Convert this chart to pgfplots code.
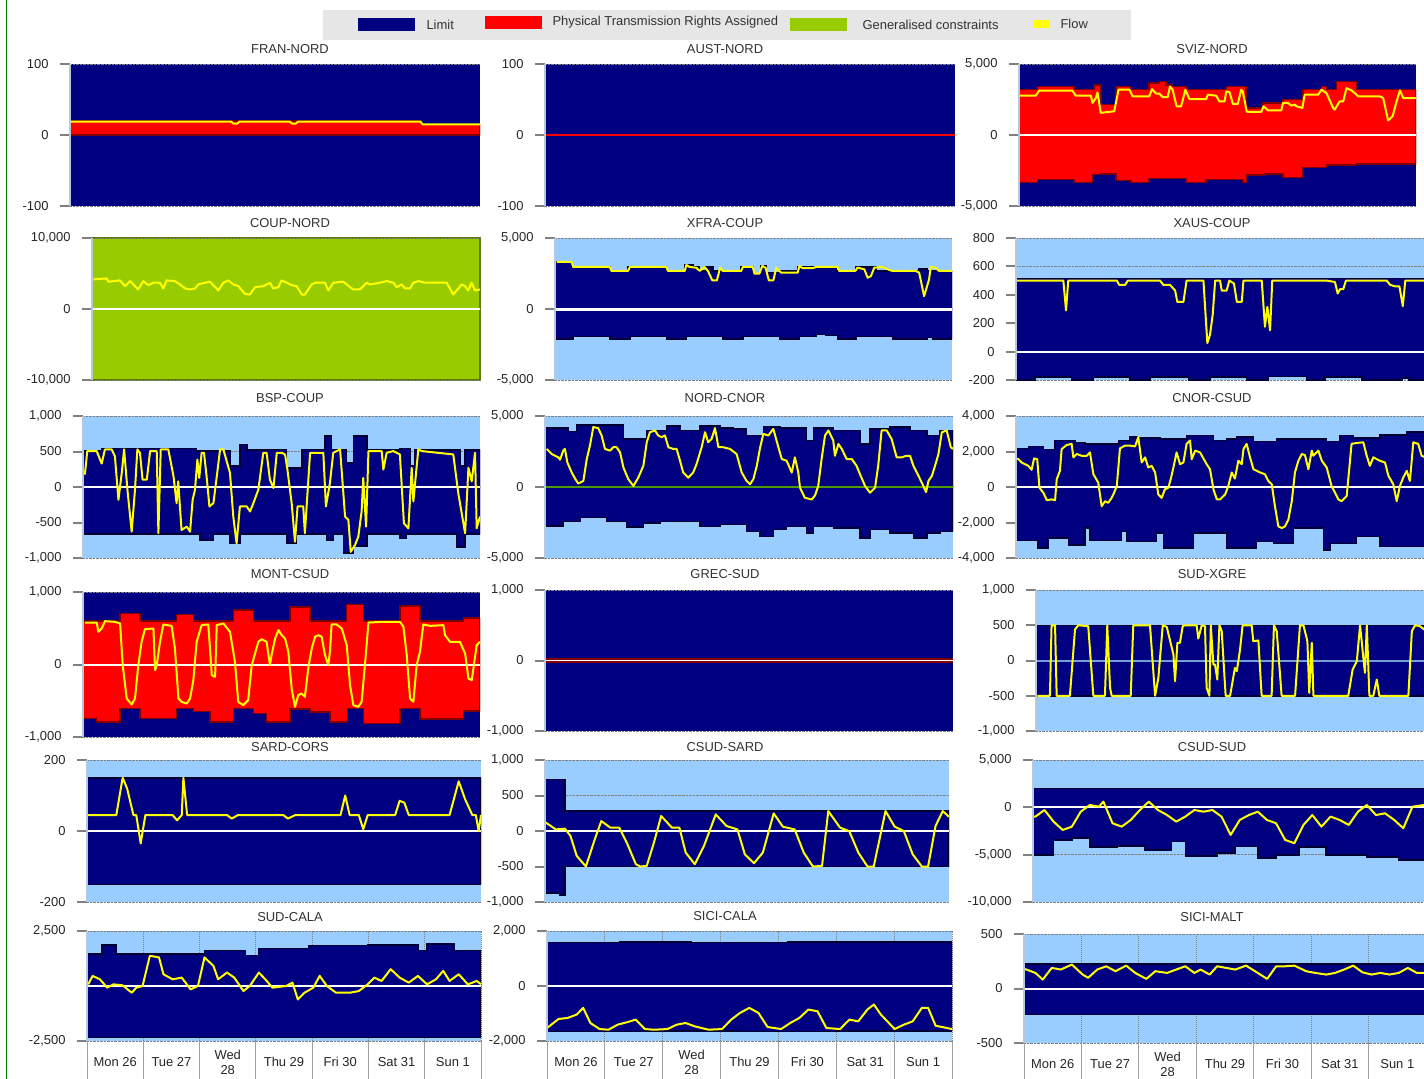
\documentclass[border=0pt]{standalone}
\usepackage{fontspec}
\setmainfont{Liberation Sans}
\usepackage{pgfplots}
\pgfplotsset{compat=1.18}

\definecolor{navyc}{HTML}{000080}
\definecolor{dnavy}{HTML}{000033}
\definecolor{lblue}{HTML}{99CCFF}
\definecolor{ptrc}{HTML}{FF0000}
\definecolor{dred}{HTML}{800000}
\definecolor{gcons}{HTML}{99CC00}
\definecolor{flowc}{HTML}{FFFF00}
\definecolor{txt}{HTML}{333333}
\definecolor{tickg}{HTML}{808080}
\definecolor{sepg}{HTML}{A0A0A0}
\definecolor{legbg}{HTML}{E6E6E6}
\definecolor{axl}{HTML}{B8C8D8}
\definecolor{zgreen}{HTML}{4C9A00}
\definecolor{zblue}{HTML}{70A0D8}

\newcommand\tf{\fontsize{13}{15}\selectfont}

\pgfplotsset{
  panel/.style={
    scale only axis, anchor=south west,
    xmin=0, xmax=168, xtick=\empty,
    axis line style={draw=none},
    scaled y ticks=false,
    ytick pos=left, tick align=outside, major tick length=10bp,
    ytick style={draw=tickg, line width=2bp},
    yticklabel style={font=\tf, text=black!85, xshift=-8bp},
    ymajorgrids, grid style={draw=tickg, densely dotted, line width=1bp},
    axis background/.style={fill=lblue},
    after end axis/.code={\draw[axl, line width=1.2bp] (rel axis cs:0,0) -- (rel axis cs:0,1);},
  },
  days/.style={
    xtick={12,36,60,84,108,132,156},
    xticklabels={Mon 26,Tue 27,{Wed\\28},Thu 29,Fri 30,Sat 31,Sun 1},
    xtick pos=bottom, xtick style={draw=none},
    xticklabel style={font=\tf, text=black!85, align=center, anchor=center, yshift=-11bp},
    minor xtick={0,24,...,168}, xminorgrids,
    minor grid style={draw=tickg, densely dotted, line width=1bp},
    after end axis/.code={
      \draw[axl, line width=1.2bp] (rel axis cs:0,0) -- (rel axis cs:0,1);
      \foreach \d in {0,...,7} \draw[sepg, line width=1bp] (rel axis cs:\d/7,0) -- ++(0,-40bp);
    },
  },
  lim/.style={const plot, fill=navyc, draw=dnavy, line width=1.5bp},
  ptr/.style={const plot, fill=ptrc, draw=dred, line width=1.5bp},
  flw/.style={sharp plot, draw=flowc, line width=2bp, line join=round},
  zer/.style={draw=white, line width=2bp},
}

\begin{document}
\begin{tikzpicture}
\useasboundingbox (0,0) rectangle (1424bp,-1079bp);
\fill[white] (0,0) rectangle (1424bp,-1079bp);
\draw[green!50!black, line width=1bp] (6.5bp,0) -- (6.5bp,-1079bp);

% legend
\fill[legbg] (323bp,-10bp) rectangle (1131bp,-40bp);
\fill[navyc] (358bp,-18bp) rectangle (415bp,-31bp);
\node[anchor=west, text=txt, font=\tf] at (423bp,-24.5bp) {Limit};
\fill[ptrc] (485bp,-16bp) rectangle (542bp,-29bp);
\node[anchor=west, text=txt, font=\tf] at (549bp,-22.5bp) {Physical Transmission Rights Assigned};
\fill[gcons] (790bp,-18bp) rectangle (847bp,-31bp);
\node[anchor=west, text=txt, font=\tf] at (859bp,-25bp) {Generalised constraints};
\fill[flowc] (1033bp,-20bp) rectangle (1050bp,-28bp);
\node[anchor=west, text=txt, font=\tf] at (1057bp,-24bp) {Flow};

% titles
\foreach \t/\x/\y in {FRAN-NORD/290/49, AUST-NORD/725/49, SVIZ-NORD/1212/49,
  COUP-NORD/290/223, XFRA-COUP/725/223, XAUS-COUP/1212/223,
  BSP-COUP/290/398, NORD-CNOR/725/398, CNOR-CSUD/1212/398,
  MONT-CSUD/290/574, GREC-SUD/725/574, SUD-XGRE/1212/574,
  SARD-CORS/290/747, CSUD-SARD/725/747, CSUD-SUD/1212/747,
  SUD-CALA/290/917, SICI-CALA/725/916, SICI-MALT/1212/917}
  \node[text=txt, font=\tf] at (\x bp,-\y bp) {\t};

% ---------- row 1 ----------
\begin{axis}[panel, at={(70bp,-206bp)}, width=410bp, height=142bp,
  ymin=-100, ymax=100, ytick={-100,0,100}, yticklabels={-100,0,100},
  axis background/.style={fill=navyc}]
\addplot[ptr] coordinates {(0,19.5)(144,15)(168,15)} \closedcycle;
\addplot[flw] coordinates {(0,19)(66,19)(67,16)(68.5,16)(69.5,19)(90,19)(91,16)(92.5,16)(93.5,19)(143.5,19)(144.5,15)(168,15)};
\end{axis}

\begin{axis}[panel, at={(545bp,-206bp)}, width=410bp, height=142bp,
  ymin=-100, ymax=100, ytick={-100,0,100}, yticklabels={-100,0,100},
  axis background/.style={fill=navyc}]
\addplot[draw=ptrc, line width=2bp] coordinates {(0,0)(168,0)};
\end{axis}

\begin{axis}[panel, at={(1019bp,-206bp)}, width=397bp, height=142bp,
  ymin=-5000, ymax=5000, ytick={-5000,0,5000}, yticklabels={{-5,000},0,{5,000}},
  axis background/.style={fill=navyc}]
\addplot[ptr] coordinates {(0,3190)(7.8,3420)(23.3,3190)(31.8,3530)(34.6,2140)(41.0,3420)(47.4,3190)(55.1,3650)(59.4,3770)(62.2,3530)(65.0,3420)(70.7,3190)(87.7,3420)(96.0,1910)(103.2,2260)(111.7,2490)(120.2,3190)(128.0,3420)(130.1,3190)(134.3,3770)(142.8,3190)(168,3190)} \closedcycle;
\addplot[ptr] coordinates {(0,-3330)(7.8,-3140)(23.3,-3330)(31.1,-2790)(34.6,-2740)(41.0,-3210)(47.4,-3330)(55.1,-3050)(70.7,-3330)(79.2,-3140)(94.7,-3330)(96.2,-2810)(104.0,-2740)(111.7,-2980)(120.2,-2280)(130.1,-2120)(142.8,-2050)(168,-2050)} \closedcycle;
\addplot[zer] coordinates {(0,0)(168,0)};
\addplot[flw] coordinates {(0,2770)(7.1,2770)(8.5,3120)(22.6,3120)(24.0,2770)(30.4,2770)(31.1,2260)(32.5,2600)(33.2,3000)(34.6,1560)(40.3,1670)(42.1,3190)(46.7,3190)(48.1,2720)(55.1,2720)(56.3,3230)(58.0,2910)(59.4,2910)(60.8,2670)(62.9,2670)(63.9,3420)(65.0,3190)(66.7,2020)(68.6,2020)(70.4,3190)(72.1,2530)(79.2,2530)(79.9,2840)(83.4,2770)(84.8,2370)(87.0,2370)(87.7,3070)(89.1,3020)(90.5,2190)(92.6,2190)(94.0,3190)(94.7,3070)(96.4,1630)(102.5,1630)(103.5,2020)(105.3,1740)(111.0,1740)(111.7,2260)(113.8,2260)(115.2,2070)(116.7,2140)(117.4,2020)(119.9,1910)(120.9,2840)(126.6,2840)(128.0,3190)(130.1,2950)(132.9,1910)(133.6,1790)(135.7,2370)(137.2,2370)(138.6,3300)(140.7,3140)(142.1,2950)(143.5,2720)(152.7,2720)(154.1,2600)(156.2,1020)(158.1,1330)(159.8,2370)(161.2,3140)(162.6,2600)(168,2600)};
\end{axis}

% ---------- row 2 ----------
\begin{axis}[panel, at={(92bp,-380bp)}, width=388bp, height=142bp,
  ymin=-10000, ymax=10000, ytick={-10000,0,10000}, yticklabels={{-10,000},0,{10,000}},
  axis background/.style={fill=gcons, draw=gcons!60!black, line width=2bp}]
\addplot[zer] coordinates {(0,0)(168,0)};
\addplot[flw] coordinates {(0.6,4170)(6.4,4310)(7.1,3840)(12.1,4030)(14.3,3220)(16.5,3930)(17.9,3460)(20.0,2750)(22.2,3930)(24.4,3360)(26.5,3700)(29.4,3700)(30.9,2890)(32.3,4030)(35.9,3930)(38.1,3460)(40.3,2890)(42.4,2750)(44.6,2890)(46.0,3460)(48.9,3700)(51.1,3840)(52.5,3360)(54.7,2610)(56.9,3700)(59.0,4030)(61.2,3460)(63.4,3220)(66.2,2130)(68.4,2040)(70.6,3080)(74.2,3220)(77.1,3700)(78.5,2890)(80.7,3080)(82.1,4030)(84.3,3700)(86.5,3360)(88.6,3220)(90.8,2040)(92.2,2040)(95.1,3460)(96.6,3700)(100.9,3700)(102.3,2610)(104.5,3700)(108.8,3840)(111.7,3080)(113.1,2750)(116.0,2750)(118.9,3700)(120.4,3460)(124.7,3700)(127.6,3930)(130.5,3700)(131.9,3080)(134.1,3460)(135.5,2890)(137.7,2890)(139.1,3700)(141.3,3930)(144.2,3700)(153.6,3700)(156.4,2040)(160.1,3460)(161.5,3220)(162.9,2610)(164.4,3700)(165.8,2610)(168,2750)};
\end{axis}

\begin{axis}[panel, at={(555bp,-380bp)}, width=397bp, height=142bp,
  ymin=-5000, ymax=5000, ytick={-5000,0,5000}, yticklabels={{-5,000},0,{5,000}}]
\addplot[lim] coordinates {(0,3320)(7.0,2960)(23.2,2680)(30.9,2960)(47.1,2680)(54.9,3100)(58.4,2960)(61.2,2680)(64.0,2960)(66.8,2680)(78.8,2960)(83.7,2490)(87.2,3030)(89.4,2560)(95.0,2680)(102.7,2960)(118.9,2680)(127.3,2960)(135.8,2680)(154.1,2800)(157.6,2680)(168,2680)} \closedcycle;
\addplot[lim] coordinates {(0,-2110)(7.7,-1940)(23.2,-2110)(31.7,-1940)(47.1,-2110)(55.6,-1940)(71.0,-2110)(79.5,-1940)(95.0,-2110)(103.4,-1940)(110.5,-1780)(114.7,-1870)(119.6,-2110)(127.3,-1940)(142.8,-2110)(157.6,-2010)(159.7,-2110)(168,-2110)} \closedcycle;
\addplot[draw=white, line width=3bp] coordinates {(0,0)(168,0)};
\addplot[flw] coordinates {(0.7,3320)(7.0,3320)(7.7,2960)(23.2,2960)(23.9,2680)(30.9,2680)(31.7,2960)(47.1,2960)(47.8,2680)(54.9,2680)(55.6,3100)(57.0,2960)(59.8,2910)(61.2,2680)(63.3,2960)(64.7,2680)(66.6,2010)(68.5,2010)(69.9,2910)(71.0,2680)(78.8,2680)(79.5,2960)(83.7,2960)(84.4,2490)(86.5,2490)(87.7,3030)(89.1,2910)(90.5,2010)(92.4,2010)(93.6,2910)(95.0,2680)(95.7,2560)(102.7,2560)(103.4,3030)(104.8,2870)(109.0,2870)(110.5,2960)(119.6,2960)(120.3,2680)(127.1,2680)(128.0,2910)(130.9,2800)(132.3,2200)(133.7,2320)(135.1,2910)(138.6,2960)(140.7,2800)(142.8,2680)(152.7,2680)(154.1,2560)(156.2,900)(158.3,2090)(159.0,2960)(161.1,2910)(162.5,2680)(168,2680)};
\end{axis}

\begin{axis}[panel, at={(1016bp,-380bp)}, width=410bp, height=142bp,
  ymin=-200, ymax=800, ytick={-200,0,200,400,600,800}, yticklabels={-200,0,200,400,600,800}]
\addplot[lim] coordinates {(0,515)(168,515)} \closedcycle;
\addplot[lim] coordinates {(0,-200)(7.8,-180)(22.8,-200)(31.7,-180)(46.7,-200)(54.9,-180)(70.6,-200)(79.5,-180)(94.5,-200)(103.4,-175)(119.1,-200)(126.6,-180)(141.7,-200)(158.1,-185)(160.8,-200)(168,-200)} \closedcycle;
\addplot[zer] coordinates {(0,0)(168,0)};
\addplot[flw] coordinates {(0,500)(19.4,500)(20.5,290)(21.4,500)(41.3,500)(42.3,470)(44.7,470)(45.8,500)(59.0,500)(60.4,470)(63.1,470)(65.2,430)(66.1,350)(68.6,350)(69.9,500)(76.8,500)(78.4,60)(79.5,120)(80.6,260)(81.6,500)(83.6,500)(84.3,430)(86.3,430)(87.4,500)(89.3,480)(90.5,350)(92.5,350)(93.2,500)(100.7,500)(102.0,175)(103.0,315)(104.1,150)(105.0,500)(127.3,500)(130.7,490)(131.8,410)(132.8,440)(134.1,440)(135.2,500)(151.9,500)(153.3,470)(155.3,460)(157.1,460)(158.5,320)(159.5,500)(168,500)};
\end{axis}

% ---------- row 3 ----------
\begin{axis}[panel, at={(83bp,-558bp)}, width=397bp, height=142bp,
  ymin=-1000, ymax=1000, ytick={-1000,-500,0,500,1000}, yticklabels={{-1,000},-500,0,500,{1,000}}]
\addplot[lim] coordinates {(0,506)(7.9,539)(48.1,506)(62.2,293)(66.4,600)(69.3,520)(77.7,530)(86.2,270)(92.6,530)(102.4,719)(105.2,530)(111.6,340)(114.4,719)(120.1,520)(134.1,539)(138.4,300)(140.5,520)(159.5,293)(161.7,520)(168,520)} \closedcycle;
\addplot[lim] coordinates {(0,-662)(49.5,-747)(55.2,-662)(62.2,-794)(66.4,-662)(86.2,-790)(90.4,-662)(103.1,-747)(105.9,-662)(110.2,-927)(114.4,-830)(120.1,-662)(134.1,-723)(136.9,-662)(158.1,-842)(161.7,-662)(168,-662)} \closedcycle;
\addplot[zer] coordinates {(0,0)(168,0)};
\addplot[flw] coordinates {(0.8,175)(1.8,506)(5.8,506)(7.9,331)(9.3,530)(12.1,530)(13.5,435)(15.0,-180)(16.4,199)(17.4,530)(18.8,-38)(20.6,-629)(22.0,-38)(23.0,530)(24.1,482)(25.2,104)(27.0,104)(28.4,506)(31.2,506)(31.9,-652)(32.9,530)(36.1,530)(38.3,151)(39.6,-227)(40.3,80)(41.7,-605)(43.9,-558)(45.3,-629)(46.4,-180)(47.4,-38)(48.4,388)(49.2,128)(50.2,482)(51.2,482)(52.3,151)(53.5,-274)(55.2,-227)(56.8,199)(58.0,530)(59.4,530)(60.8,364)(62.2,199)(63.6,-416)(65.0,-794)(66.4,-274)(69.3,-274)(70.7,-345)(72.1,-227)(74.2,-38)(76.3,482)(77.7,482)(79.1,104)(80.6,-14)(82.0,482)(84.1,482)(85.5,459)(86.5,246)(88.3,-227)(89.7,-771)(90.8,-274)(93.2,-274)(93.9,-652)(96.1,482)(101.7,482)(102.8,-274)(104.5,57)(105.9,482)(108.8,530)(110.9,-416)(112.3,-463)(113.3,-913)(115.1,-818)(116.5,-700)(117.9,-345)(118.6,128)(119.8,-558)(120.8,506)(126.4,506)(127.1,246)(128.5,482)(131.3,506)(134.1,459)(135.8,-511)(137.7,-582)(139.1,270)(139.8,-203)(141.9,530)(143.3,506)(156.7,459)(158.8,-85)(161.7,-652)(163.1,270)(164.5,80)(165.9,482)(166.6,-582)(168,-416)};
\end{axis}

\begin{axis}[panel, at={(545bp,-558bp)}, width=408bp, height=142bp,
  ymin=-5000, ymax=5000, ytick={-5000,0,5000}, yticklabels={{-5,000},0,{5,000}}]
\addplot[lim] coordinates {(0,4150)(9.6,3910)(13.0,4380)(32.3,3390)(41.9,3980)(50.1,4290)(55.6,3980)(63.8,4290)(72.1,4150)(77.6,4100)(83.0,3630)(89.9,4220)(96.8,4150)(107.7,3270)(110.5,4150)(118.7,3980)(129.7,3030)(133.8,4100)(142.0,4220)(150.3,3980)(157.2,3630)(162.7,3980)(168,3980)} \closedcycle;
\addplot[lim] coordinates {(0,-2730)(7.5,-2420)(14.4,-2130)(25.4,-2420)(33.6,-2820)(40.5,-2540)(47.3,-2420)(63.8,-2770)(72.1,-2650)(83.0,-3130)(88.6,-3480)(94.0,-3010)(99.5,-2770)(107.7,-3250)(110.5,-2770)(118.7,-2890)(129.7,-3600)(133.8,-3010)(142.0,-3250)(151.7,-3600)(157.2,-3250)(162.7,-3130)(168,-3130)} \closedcycle;
\addplot[draw=zgreen, line width=2bp] coordinates {(0,0)(168,0)};
\addplot[flw] coordinates {(0.7,2680)(2.8,2320)(5.5,2090)(6.2,1920)(7.5,2560)(8.2,2680)(9.2,1730)(11.0,1020)(12.4,590)(13.7,240)(15.8,430)(17.2,1970)(18.5,2910)(19.9,4220)(21.9,4150)(23.3,3630)(24.7,2680)(26.8,2560)(28.1,2800)(29.5,2800)(30.9,2440)(32.3,1370)(34.3,550)(36.4,70)(38.4,660)(40.5,1490)(41.9,3150)(43.2,3860)(45.3,3980)(46.6,3630)(48.0,3510)(49.4,3630)(50.8,2800)(52.8,2680)(54.2,2680)(55.6,1850)(56.9,1020)(59.0,660)(61.0,1020)(62.4,1610)(64.5,2800)(65.9,3860)(67.2,3150)(68.6,3390)(70.0,4150)(71.4,2800)(73.4,2800)(76.2,2680)(78.9,2320)(81.0,1020)(83.0,430)(84.4,190)(85.8,550)(87.2,1490)(88.6,2800)(89.9,3740)(92.0,3630)(94.0,4100)(96.1,2800)(97.5,1970)(99.5,1850)(101.6,1020)(102.9,2090)(104.3,1020)(105.0,-50)(107.0,-760)(109.8,-880)(111.2,-590)(112.5,70)(113.9,1970)(115.3,3630)(116.7,3980)(118.7,3270)(119.4,2200)(120.8,3030)(122.2,2680)(124.2,1970)(126.3,1970)(128.3,1490)(129.7,900)(131.8,70)(133.8,-400)(135.9,-50)(137.2,1490)(138.6,3980)(140.7,3980)(142.7,3390)(144.8,2090)(146.9,2090)(148.9,2200)(150.3,2200)(151.7,1490)(153.8,780)(155.8,70)(156.9,-360)(157.9,430)(159.3,780)(160.6,1490)(162.0,2320)(163.4,3860)(165.4,3980)(167.1,2800)(168,2680)};
\end{axis}

\begin{axis}[panel, at={(1016bp,-558bp)}, width=410bp, height=142bp,
  ymin=-4000, ymax=4000, ytick={-4000,-2000,0,2000,4000}, yticklabels={{-4,000},{-2,000},0,{2,000},{4,000}}]
\addplot[lim] coordinates {(0,2180)(5.1,2290)(11.2,2100)(16.0,2620)(24.2,2520)(28.3,2430)(41.9,2620)(46.7,2810)(49.5,2750)(59.0,2710)(69.9,2900)(80.9,2620)(86.3,2710)(90.4,2810)(97.3,2560)(106.8,2710)(127.3,2560)(132.7,2900)(138.2,2750)(149.1,2940)(160.1,3090)(168,3090)} \closedcycle;
\addplot[lim] coordinates {(0,-3010)(9.1,-3450)(13.2,-2880)(21.5,-3260)(28.3,-2310)(30.3,-3010)(43.3,-2500)(45.3,-3070)(57.6,-2600)(60.4,-3450)(72.7,-2600)(86.3,-3450)(98.6,-3070)(105.5,-3170)(113.7,-2310)(125.9,-3550)(128.7,-3170)(139.6,-2790)(149.1,-3360)(168,-3360)} \closedcycle;
\addplot[zer] coordinates {(0,0)(168,0)};
\addplot[flw] coordinates {(0,1600)(1.0,1570)(2.3,1380)(5.1,1190)(6.4,970)(7.4,1610)(8.7,1570)(9.6,-40)(11.2,-320)(12.6,-740)(14.6,-700)(16.0,-740)(16.7,440)(18.0,910)(18.7,2140)(20.8,2370)(22.8,2430)(23.5,1670)(24.9,1860)(26.9,1760)(29.0,1760)(30.3,1950)(31.7,720)(33.7,250)(35.1,-1080)(36.5,-800)(37.8,-890)(39.2,-610)(39.9,-420)(41.3,60)(42.6,2180)(44.7,2330)(46.7,2330)(48.8,2290)(50.1,2810)(51.5,1380)(52.9,1670)(54.2,1100)(55.6,1190)(57.0,820)(58.3,-420)(59.7,-610)(61.0,-130)(62.4,-40)(63.4,440)(64.5,1100)(65.8,1950)(67.2,1290)(68.6,1380)(69.9,2430)(71.3,2620)(72.0,1570)(73.4,2050)(75.4,1950)(78.1,1290)(79.5,1000)(80.9,-130)(82.3,-700)(83.6,-700)(85.7,-420)(87.0,60)(88.4,820)(89.7,470)(91.1,1480)(92.5,1290)(93.2,2140)(94.5,2430)(95.9,1670)(97.3,1000)(100.0,820)(102.0,720)(103.4,340)(104.8,150)(106.1,-1080)(107.5,-2220)(108.9,-2310)(110.2,-2220)(111.6,-1840)(113.0,-800)(114.3,820)(115.7,1480)(117.1,1860)(118.4,1800)(119.8,1000)(121.2,2050)(121.8,1760)(123.9,2050)(125.3,1480)(127.3,1100)(129.3,60)(130.7,-320)(132.1,-700)(133.4,-800)(135.5,-510)(137.5,2430)(139.6,2480)(142.3,2520)(143.7,1760)(145.0,1190)(146.4,1670)(149.1,1480)(151.2,1380)(152.6,630)(154.6,150)(156.0,-800)(157.3,60)(158.7,540)(160.1,910)(161.4,340)(162.8,2520)(164.8,2430)(166.2,1760)(168,1650)};
\end{axis}

% ---------- row 4 ----------
\begin{axis}[panel, at={(83bp,-737bp)}, width=397bp, height=145bp,
  ymin=-1000, ymax=1000, ytick={-1000,0,1000}, yticklabels={{-1,000},0,{1,000}},
  axis background/.style={fill=navyc}]
\addplot[ptr] coordinates {(0,600)(15.7,703)(24.1,600)(39.6,690)(46.7,600)(63.6,749)(72.1,600)(87.6,795)(96.1,600)(111.6,828)(118.6,600)(134.1,809)(142.6,600)(161.0,644)(168,644)} \closedcycle;
\addplot[ptr] coordinates {(0,-745)(5.8,-790)(15.7,-607)(24.1,-745)(39.6,-607)(46.7,-650)(53.7,-790)(63.6,-607)(72.1,-676)(77.7,-791)(87.6,-616)(96.1,-653)(104.5,-791)(112.0,-607)(118.6,-814)(134.1,-607)(142.6,-754)(161.0,-644)(168,-644)} \closedcycle;
\addplot[zer] coordinates {(0,0)(168,0)};
\addplot[flw] coordinates {(0.8,579)(5.8,579)(6.5,451)(7.9,497)(9.3,598)(13.5,589)(15.7,566)(16.8,-9)(18.5,-469)(20.6,-552)(22.0,-469)(23.4,-9)(24.8,313)(26.2,487)(29.8,497)(30.5,-78)(31.2,-9)(32.6,313)(34.0,552)(37.5,533)(38.9,221)(40.4,-469)(41.7,-515)(43.9,-538)(45.3,-469)(46.7,-216)(48.1,313)(50.2,543)(53.0,552)(53.7,244)(54.5,-147)(55.9,-170)(56.6,543)(59.4,566)(62.2,451)(64.3,37)(65.7,-515)(67.8,-561)(69.9,-492)(71.4,-9)(72.8,152)(74.2,313)(75.6,349)(77.7,313)(79.1,-9)(79.8,129)(81.3,359)(82.7,474)(84.1,405)(85.5,359)(86.9,175)(88.3,-331)(89.7,-584)(91.1,-423)(92.5,-400)(93.9,-446)(95.4,-32)(96.8,221)(98.2,382)(99.6,405)(101.0,382)(102.4,129)(103.8,-9)(104.5,175)(105.2,552)(107.3,552)(109.5,497)(111.6,267)(113.0,-285)(114.4,-561)(116.5,-584)(117.9,-515)(119.3,-9)(120.8,579)(127.1,589)(134.1,589)(135.6,520)(137.0,129)(138.4,-469)(139.8,-515)(141.2,-9)(142.6,175)(144.0,552)(146.9,533)(152.5,543)(153.2,405)(155.3,313)(159.5,313)(161.7,152)(163.1,-193)(164.5,-216)(166.6,267)(168,313)};
\end{axis}

\begin{axis}[panel, at={(545bp,-731bp)}, width=408bp, height=141bp,
  ymin=-1000, ymax=1000, ytick={-1000,0,1000}, yticklabels={{-1,000},0,{1,000}},
  axis background/.style={fill=navyc}]
\addplot[draw=dred, line width=5bp] coordinates {(0,0)(168,0)};
\addplot[draw=white, line width=1.8bp] coordinates {(0,0)(168,0)};
\end{axis}

\begin{axis}[panel, at={(1036bp,-731bp)}, width=390bp, height=141bp,
  ymin=-1000, ymax=1000, ytick={-1000,-500,0,500,1000}, yticklabels={{-1,000},-500,0,500,{1,000}}]
\addplot[lim] coordinates {(0,500)(168,500)} \closedcycle;
\addplot[lim] coordinates {(0,-500)(168,-500)} \closedcycle;
\addplot[draw=zblue, line width=2bp] coordinates {(0,0)(168,0)};
\addplot[flw] coordinates {(0.6,-500)(6.0,-500)(6.7,500)(8.2,500)(8.9,-500)(14.6,-500)(16.8,440)(18.2,500)(22.5,487)(24.7,-500)(29.7,-500)(30.7,500)(31.9,-388)(32.6,-500)(40.8,-500)(41.9,500)(49.1,500)(51.3,-500)(52.7,-246)(54.6,500)(56.3,478)(59.2,85)(59.9,-293)(60.9,251)(62.0,251)(63.2,487)(64.2,500)(69.2,500)(69.9,312)(71.4,500)(72.8,487)(73.5,-388)(74.7,-500)(75.3,500)(76.4,-57)(77.1,-57)(78.1,-270)(79.0,500)(80.0,416)(81.7,-500)(83.6,-500)(85.7,-104)(86.5,-151)(87.9,156)(89.0,500)(92.9,500)(93.6,274)(95.8,284)(97.2,-500)(101.5,-500)(102.5,500)(103.7,416)(105.8,-500)(111.6,-500)(113.7,500)(115.2,500)(116.9,274)(117.7,-459)(118.8,251)(119.5,-500)(134.5,-500)(136.4,-128)(138.2,-9)(139.6,500)(141.0,38)(141.7,-175)(142.5,500)(143.6,-500)(145.3,-500)(146.8,-270)(147.9,-500)(160.4,-500)(161.9,416)(163.3,500)(165.4,487)(167.2,440)(168,440)};
\end{axis}

% ---------- row 5 ----------
\begin{axis}[panel, at={(87bp,-902bp)}, width=394bp, height=142bp,
  ymin=-200, ymax=200, ytick={-200,0,200}, yticklabels={-200,0,200}]
\addplot[lim] coordinates {(0,150)(168,150)} \closedcycle;
\addplot[lim] coordinates {(0,-150)(168,-150)} \closedcycle;
\addplot[zer] coordinates {(0,0)(168,0)};
\addplot[flw] coordinates {(0.5,45)(12.5,45)(15.2,150)(17.1,120)(19.8,45)(21.0,45)(22.9,-35)(24.9,45)(36.5,45)(38.4,30)(40.4,45)(41.1,150)(42.7,45)(59.7,45)(61.7,35)(64.4,45)(83.7,45)(85.7,35)(88.8,45)(108.1,45)(110.1,100)(112.0,45)(115.9,45)(117.8,5)(119.7,45)(131.4,45)(133.3,85)(135.3,80)(137.2,45)(154.6,45)(158.5,140)(161.2,90)(164.3,45)(165.8,45)(167.0,0)(168,45)};
\end{axis}

\begin{axis}[panel, at={(545bp,-902bp)}, width=404bp, height=142bp,
  ymin=-1000, ymax=1000, ytick={-1000,-500,0,500,1000}, yticklabels={{-1,000},-500,0,500,{1,000}}]
\addplot[lim] coordinates {(0,726)(8.3,281)(168,281)} \closedcycle;
\addplot[lim] coordinates {(0,-876)(6.0,-904)(8.3,-500)(168,-500)} \closedcycle;
\addplot[zer] coordinates {(0,0)(168,0)};
\addplot[flw] coordinates {(0,126)(4.5,23)(8.3,33)(10.6,-70)(13.2,-351)(17.0,-500)(20.7,-117)(23.4,140)(27.2,47)(30.9,47)(34.0,-164)(37.8,-468)(39.6,-500)(42.3,-492)(45.3,-164)(48.3,211)(52.8,47)(55.9,47)(58.5,-304)(62.3,-468)(66.1,-211)(71.0,234)(75.5,70)(80.0,23)(83.1,-328)(86.9,-454)(90.6,-304)(95.1,248)(98.9,61)(103.8,23)(107.6,-304)(111.4,-500)(115.2,-492)(117.8,281)(122.7,47)(126.5,0)(130.3,-304)(134.1,-500)(136.7,-500)(141.6,281)(145.4,61)(149.2,0)(152.9,-328)(156.7,-500)(159.3,-500)(162.4,70)(165.4,281)(168,200)};
\end{axis}

\begin{axis}[panel, at={(1033bp,-902bp)}, width=393bp, height=142bp,
  ymin=-10000, ymax=5000, ytick={-10000,-5000,0,5000}, yticklabels={{-10,000},{-5,000},0,{5,000}}]
\addplot[lim] coordinates {(0,2000)(168,2000)} \closedcycle;
\addplot[lim] coordinates {(0,-5020)(8.8,-3440)(16.6,-3260)(24.3,-4210)(36.0,-4070)(47.6,-4490)(59.3,-3610)(65.1,-5120)(78.7,-4840)(86.4,-4140)(96.1,-5370)(103.9,-5020)(113.6,-4210)(125.3,-5020)(142.7,-5260)(156.3,-5540)(168,-5540)} \closedcycle;
\addplot[zer] coordinates {(0,0)(168,0)};
\addplot[flw] coordinates {(0,-1000)(1.0,-980)(4.9,-280)(8.8,-1510)(12.7,-2390)(16.6,-2040)(20.4,-460)(24.3,250)(28.2,70)(30.1,600)(34.0,-1680)(37.9,-2040)(41.8,-1330)(45.7,-280)(49.5,600)(53.4,-280)(57.3,-810)(61.2,-1510)(65.1,-980)(69.0,-280)(72.9,-460)(76.7,-280)(80.6,-980)(84.5,-2910)(88.4,-1330)(92.3,-810)(96.1,-460)(100.0,-1330)(103.9,-1680)(107.8,-3440)(111.7,-3790)(115.6,-1860)(119.4,-810)(123.3,-2040)(127.2,-980)(131.1,-1330)(135.0,-1860)(138.9,-460)(142.7,250)(146.6,-810)(150.5,-630)(154.4,-1330)(158.3,-2210)(162.2,70)(167.2,250)(168,250)};
\end{axis}

% ---------- row 6 ----------
\begin{axis}[panel, days, at={(87bp,-1041bp)}, width=394bp, height=110bp,
  ymin=-2500, ymax=2500, ytick={-2500,2500}, yticklabels={{-2,500},{2,500}}]
\addplot[lim] coordinates {(0,1453)(6.3,1865)(12.5,1453)(50.1,1606)(67.5,1376)(73.3,1713)(94.6,1835)(119.7,1865)(141.1,1606)(145.0,1911)(156.6,1606)(168,1606)} \closedcycle;
\addplot[lim] coordinates {(0,-2340)(168,-2340)} \closedcycle;
\addplot[zer] coordinates {(0,0)(168,0)};
\addplot[flw] coordinates {(0.5,76)(2.4,459)(5.5,306)(8.6,-76)(11.3,76)(15.2,31)(19.1,-306)(21.0,-76)(23.7,0)(26.8,1376)(30.7,1300)(32.6,535)(36.5,306)(40.4,382)(44.2,-153)(47.3,0)(50.1,1300)(53.9,918)(55.9,306)(59.7,612)(62.8,382)(66.7,-229)(69.4,0)(73.3,612)(76.0,306)(79.1,-76)(84.9,0)(87.6,153)(89.9,-612)(92.7,-306)(96.5,-76)(99.2,459)(102.3,0)(106.2,-306)(112.0,-306)(115.9,-229)(119.7,76)(122.5,382)(125.6,229)(129.5,765)(133.3,382)(137.2,153)(141.1,459)(145.0,76)(148.8,306)(151.9,688)(154.6,229)(158.5,535)(162.4,76)(166.2,229)(168,76)};
\end{axis}

\begin{axis}[panel, days, at={(547bp,-1041bp)}, width=405bp, height=110bp,
  ymin=-2000, ymax=2000, ytick={-2000,0,2000}, yticklabels={{-2,000},0,{2,000}}]
\addplot[lim] coordinates {(0,1580)(30,1600)(60,1590)(100,1600)(168,1590)} \closedcycle;
\addplot[lim] coordinates {(0,-1650)(40,-1630)(80,-1660)(120,-1640)(168,-1650)} \closedcycle;
\addplot[zer] coordinates {(0,0)(168,0)};
\addplot[flw] coordinates {(0,-1528)(4.8,-1198)(8.6,-1161)(12.3,-1039)(15.0,-795)(18.0,-1345)(21.8,-1565)(25.5,-1589)(29.3,-1406)(33.1,-1320)(36.8,-1222)(40.6,-1565)(44.4,-1589)(50.0,-1565)(53.8,-1406)(57.5,-1345)(61.3,-1467)(67.0,-1589)(72.6,-1565)(76.4,-1222)(80.1,-978)(83.9,-795)(87.7,-978)(91.5,-1491)(97.1,-1565)(100.9,-1345)(104.7,-1161)(108.4,-856)(112.2,-917)(115.9,-1528)(121.6,-1565)(125.4,-1222)(129.1,-1284)(132.9,-856)(135.6,-672)(138.5,-1039)(144.2,-1565)(148.0,-1406)(151.7,-1284)(155.5,-795)(158.1,-795)(161.2,-1443)(168,-1565)};
\end{axis}

\begin{axis}[panel, days, at={(1024bp,-1043bp)}, width=402bp, height=109bp,
  ymin=-500, ymax=500, ytick={-500,0,500}, yticklabels={-500,0,500}]
\addplot[lim] coordinates {(0,226)(168,226)} \closedcycle;
\addplot[lim] coordinates {(0,-238)(168,-238)} \closedcycle;
\addplot[zer] coordinates {(0,0)(168,0)};
\addplot[flw] coordinates {(0,180)(1.0,174)(4.8,143)(7.8,82)(11.6,189)(15.4,174)(20.0,220)(24.5,128)(26.8,98)(30.6,174)(34.4,204)(38.2,159)(42.7,210)(46.5,143)(51.1,88)(54.9,159)(59.8,143)(63.6,174)(67.4,204)(71.2,143)(73.8,174)(77.6,128)(80.7,204)(84.5,189)(88.3,174)(92.8,210)(97.7,143)(101.6,88)(105.4,204)(109.2,204)(113.0,210)(117.9,159)(121.7,143)(126.3,128)(130.0,143)(133.8,174)(137.6,210)(141.4,149)(145.2,128)(149.0,143)(152.7,128)(156.6,143)(160.4,189)(164.2,143)(168,143)};
\end{axis}
\end{tikzpicture}
\end{document}
